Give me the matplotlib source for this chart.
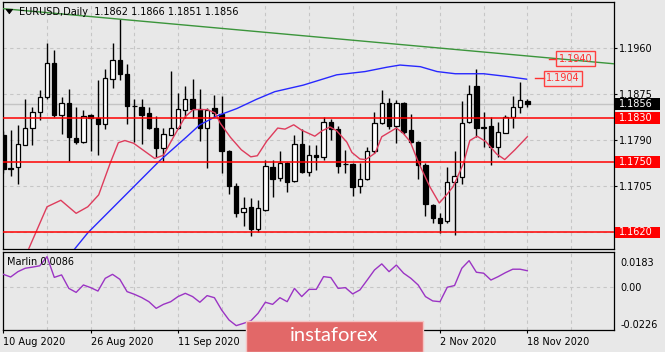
import matplotlib
matplotlib.use('Agg')
import matplotlib.pyplot as plt
import matplotlib.transforms as mtransforms
from matplotlib.patches import Rectangle, Polygon
import numpy as np

# EURUSD daily candles, bar 0 = 10 Aug 2020 ... bar 72 = 18 Nov 2020
opens = [1.1800, 1.1737, 1.1740, 1.1781, 1.1813, 1.1841, 1.1869, 1.1931, 1.1836, 1.1858,
         1.1793, 1.1787, 1.1836, 1.1831, 1.1820, 1.1902, 1.1937, 1.1912, 1.1853, 1.1850,
         1.1840, 1.1813, 1.1775, 1.1800, 1.1813, 1.1845, 1.1865, 1.1847, 1.1813, 1.1848,
         1.1838, 1.1769, 1.1705, 1.1658, 1.1666, 1.1627, 1.1661, 1.1741, 1.1720, 1.1747,
         1.1714, 1.1783, 1.1731, 1.1762, 1.1758, 1.1824, 1.1811, 1.1745, 1.1745, 1.1705,
         1.1719, 1.1769, 1.1821, 1.1858, 1.1816, 1.1858, 1.1808, 1.1787, 1.1744, 1.1671,
         1.1647, 1.1640, 1.1713, 1.1721, 1.1824, 1.1890, 1.1813, 1.1815, 1.1777, 1.1803,
         1.1832, 1.1851, 1.1862]
highs = [1.1806, 1.1809, 1.1818, 1.1865, 1.1850, 1.1882, 1.1968, 1.1956, 1.1870, 1.1883,
         1.1850, 1.1845, 1.1838, 1.1900, 1.1920, 1.1968, 1.2012, 1.1930, 1.1865, 1.1865,
         1.1850, 1.1834, 1.1813, 1.1917, 1.1876, 1.1890, 1.1902, 1.1884, 1.1848, 1.1872,
         1.1871, 1.1772, 1.1710, 1.1685, 1.1683, 1.1680, 1.1753, 1.1753, 1.1769, 1.1750,
         1.1800, 1.1810, 1.1781, 1.1781, 1.1832, 1.1829, 1.1815, 1.1772, 1.1747, 1.1747,
         1.1778, 1.1842, 1.1882, 1.1867, 1.1863, 1.1860, 1.1838, 1.1788, 1.1747, 1.1672,
         1.1656, 1.1741, 1.1770, 1.1861, 1.1891, 1.1920, 1.1842, 1.1833, 1.1824, 1.1836,
         1.1871, 1.1896, 1.1866]
lows = [1.1730, 1.1723, 1.1709, 1.1780, 1.1781, 1.1827, 1.1865, 1.1832, 1.1801, 1.1752,
        1.1783, 1.1784, 1.1770, 1.1762, 1.1810, 1.1885, 1.1901, 1.1820, 1.1787, 1.1783,
        1.1810, 1.1759, 1.1752, 1.1799, 1.1810, 1.1830, 1.1830, 1.1789, 1.1738, 1.1833,
        1.1730, 1.1691, 1.1649, 1.1632, 1.1613, 1.1620, 1.1660, 1.1685, 1.1715, 1.1695,
        1.1712, 1.1729, 1.1724, 1.1734, 1.1754, 1.1790, 1.1729, 1.1729, 1.1687, 1.1692,
        1.1717, 1.1766, 1.1820, 1.1810, 1.1785, 1.1801, 1.1785, 1.1719, 1.1650, 1.1638,
        1.1618, 1.1638, 1.1615, 1.1709, 1.1822, 1.1795, 1.1778, 1.1744, 1.1759, 1.1802,
        1.1812, 1.1840, 1.1851]
closes = [1.1736, 1.1739, 1.1783, 1.1813, 1.1841, 1.1870, 1.1931, 1.1836, 1.1859, 1.1796,
          1.1787, 1.1834, 1.1831, 1.1820, 1.1904, 1.1937, 1.1912, 1.1853, 1.1852, 1.1836,
          1.1812, 1.1775, 1.1801, 1.1813, 1.1847, 1.1865, 1.1847, 1.1813, 1.1845, 1.1840,
          1.1769, 1.1705, 1.1656, 1.1665, 1.1627, 1.1664, 1.1742, 1.1719, 1.1747, 1.1713,
          1.1783, 1.1731, 1.1762, 1.1758, 1.1824, 1.1810, 1.1742, 1.1746, 1.1704, 1.1718,
          1.1769, 1.1821, 1.1858, 1.1816, 1.1858, 1.1804, 1.1787, 1.1744, 1.1672, 1.1646,
          1.1638, 1.1713, 1.1724, 1.1822, 1.1875, 1.1812, 1.1814, 1.1777, 1.1804, 1.1833,
          1.1851, 1.1863, 1.1856]

# short moving average (red) as (bar, price)
red_bar = [2.3, 3.4, 6.0, 7.9, 10.0, 11.6, 13.1, 14.7, 15.8, 16.7, 17.9, 20.8, 22.0, 23.4,
           25.0, 26.1, 28.0, 29.1, 29.8, 31.2, 32.7, 34.0, 34.9, 36.2, 37.7, 38.7, 39.9, 41.0,
           42.8, 43.8, 44.9, 45.8, 47.2, 47.9, 49.0, 49.8, 51.1, 52.0, 54.0, 54.9, 55.9, 57.0,
           58.6, 59.9, 60.9, 61.8, 63.2, 64.1, 65.1, 66.3, 67.8, 68.9, 70.3, 72.0]
red_val = [1.1565, 1.1587, 1.1667, 1.1679, 1.1655, 1.1667, 1.1689, 1.1748, 1.1785, 1.1789,
           1.1784, 1.1756, 1.1762, 1.1796, 1.1833, 1.1846, 1.1846, 1.1840, 1.1821, 1.1795,
           1.1772, 1.1759, 1.1761, 1.1788, 1.1812, 1.1810, 1.1818, 1.1808, 1.1797, 1.1807,
           1.1814, 1.1807, 1.1786, 1.1767, 1.1755, 1.1754, 1.1766, 1.1796, 1.1812, 1.1803,
           1.1787, 1.1750, 1.1704, 1.1674, 1.1689, 1.1704, 1.1746, 1.1789, 1.1797, 1.1787,
           1.1764, 1.1754, 1.1772, 1.1796]

# long moving average (blue)
blue_bar = [8.2, 11.6, 21.5, 25.2, 27.0, 29.3, 32.1, 34.8, 37.3, 41.2, 45.8, 49.7, 52.7,
            54.5, 57.3, 59.6, 62.1, 66.0, 69.2, 71.9]
blue_val = [1.1563, 1.1619, 1.1752, 1.1796, 1.1818, 1.1834, 1.1848, 1.1865, 1.1879, 1.1891,
            1.1910, 1.1916, 1.1924, 1.1928, 1.1925, 1.1916, 1.1912, 1.1912, 1.1907, 1.1902]

# descending trend line (green)
trend_bar = [-1, 85]
trend_val = [1.2033, 1.1929]

levels = [1.1830, 1.1750, 1.1620]
bid = 1.1856
price_ticks = [1.1620, 1.1705, 1.1790, 1.1875, 1.1960]

# Marlin oscillator, one value per bar
marlin = [0.0067, 0.0053, 0.0081, 0.0099, 0.0105, 0.0112, 0.0160, 0.0051, 0.0064, -0.0007,
          -0.0028, 0.0011, -0.0003, -0.0021, 0.0046, 0.0067, 0.0041, -0.0024, -0.0038, -0.0055,
          -0.0077, -0.0112, -0.0091, -0.0077, -0.0050, -0.0033, -0.0050, -0.0080, -0.0045, -0.0056,
          -0.0121, -0.0173, -0.0203, -0.0191, -0.0178, -0.0138, -0.0080, -0.0091, -0.0056, -0.0077,
          -0.0007, -0.0050, -0.0012, -0.0012, 0.0055, 0.0050, -0.0007, -0.0003, -0.0036, -0.0015,
          0.0037, 0.0090, 0.0122, 0.0081, 0.0116, 0.0073, 0.0046, 0.0011, -0.0050, -0.0073,
          -0.0077, -0.0001, 0.0008, 0.0099, 0.0139, 0.0078, 0.0073, 0.0037, 0.0055, 0.0076,
          0.0094, 0.0094, 0.0086]

# date labels every 12 bars; 29 Sep and 15 Oct sit under the watermark
label_bars = [0, 12, 24, 36, 48, 60, 72]
label_text = ['10 Aug 2020', '26 Aug 2020', '11 Sep 2020', '',
              '', '2 Nov 2020', '18 Nov 2020']

W, H = 665, 352
bg = '#e8e8e8'
grid_c = '#c6c6c6'


def fx(px):
    return px / W


def fy(py):
    return 1 - py / H


fig = plt.figure(figsize=(W / 100, H / 100), dpi=100, facecolor=bg)
ax = fig.add_axes([fx(2.7), fy(248.5), fx(611), 246.5 / H], facecolor=bg)
ax2 = fig.add_axes([fx(2.7), fy(330), fx(611), 77.7 / H], facecolor=bg)

xmin, xmax = -0.09, 83.87
for a in (ax, ax2):
    a.set_xlim(xmin, xmax)
    for s in a.spines.values():
        s.set_color('black')
        s.set_linewidth(0.9)
    for k in range(6, 84, 6):
        a.axvline(k, color=grid_c, lw=0.8, dashes=(3, 3), zorder=0)

ax.set_ylim(1.15902, 1.20441)
ax2.set_ylim(-0.0226, 0.0183)

# grid on the price scale
for p in price_ticks:
    ax.axhline(p, color=grid_c, lw=0.8, dashes=(3, 3), zorder=0)
ax.axhline(bid, color='#c4c4c4', lw=1, zorder=1)

# candles
x = np.arange(len(opens))
o = np.array(opens)
c = np.array(closes)
up = c >= o
bot = np.minimum(o, c)
hgt = np.maximum(np.abs(c - o), 0.00005)
ax.vlines(x, lows, highs, color='black', lw=1, zorder=2)
ax.bar(x[up], hgt[up], bottom=bot[up], width=0.6, color='white',
       edgecolor='black', lw=0.9, zorder=3)
ax.bar(x[~up], hgt[~up], bottom=bot[~up], width=0.6, color='black',
       edgecolor='black', lw=0.9, zorder=3)

# indicator lines
ax.plot(trend_bar, trend_val, color='#3b953b', lw=1, zorder=4)
ax.plot(blue_bar, blue_val, color='#2828ff', lw=1, zorder=4)
ax.plot(red_bar, red_val, color='#de3c5c', lw=1, zorder=4)
for lv in levels:
    ax.axhline(lv, color='#ff0000', lw=1.1, zorder=5)

# price tags on the chart
ax.plot([73.06, 74.3], [1.1904, 1.1904], color='#ff3030', lw=1, zorder=5)
ax.text(74.6, 1.1904, '1.1904', color='#ff3030', fontsize=7, va='center', ha='left',
        zorder=6, bbox=dict(boxstyle='square,pad=0.25', fc='none', ec='#ff4040', lw=1))
ax.plot([75.0, 76.0], [1.1940, 1.1940], color='#ff3030', lw=1, zorder=5)
ax.text(76.3, 1.1940, '1.1940', color='#ff3030', fontsize=7, va='center', ha='left',
        zorder=6, bbox=dict(boxstyle='square,pad=0.25', fc='none', ec='#ff4040', lw=1))

# right price axis
ax.yaxis.tick_right()
ax.set_yticks(price_ticks)
ax.set_yticklabels([f'{p:.4f}' for p in price_ticks])
ax.tick_params(axis='y', length=2.5, width=0.8, pad=1.5, labelsize=7, colors='black')
ax.tick_params(axis='x', bottom=False, labelbottom=False)

# axis tags at the right side
tr = mtransforms.blended_transform_factory(fig.transFigure, ax.transData)
ppx = (1.20441 - 1.15902) / 246.5
for val, fc in [(1.1830, '#ff0000'), (1.1750, '#ff0000'), (1.1620, '#ff0000'), (bid, '#000000')]:
    fig.add_artist(Rectangle((fx(614.5), val - 5.8 * ppx), fx(45), 11.6 * ppx,
                             transform=tr, fc=fc, ec='none', zorder=5))
    fig.text(fx(619.3), val, f'{val:.4f}', transform=tr, color='white', fontsize=7,
             va='center', ha='left', zorder=6)

# Marlin panel
ax2.axhline(0, color=grid_c, lw=0.8, dashes=(3, 3), zorder=0)
ax2.plot(x, marlin, color='#9b34c4', lw=1, zorder=3)
ax2.text(fx(4.5) / fx(611), 0.875, 'Marlin 0.0086', transform=ax2.transAxes,
         fontsize=7, va='center', ha='left', color='black')
ax2.yaxis.tick_right()
ax2.set_yticks([0.0183, 0.0, -0.0226])
ax2.set_yticklabels(['0.0183', '0.00', '-0.0226'])
ax2.tick_params(axis='y', length=0, pad=5, labelsize=7, colors='black')
labs = ax2.get_yticklabels()
labs[0].set_transform(labs[0].get_transform() +
                      mtransforms.ScaledTranslation(0, -0.094, fig.dpi_scale_trans))
labs[2].set_transform(labs[2].get_transform() +
                      mtransforms.ScaledTranslation(0, 0.06, fig.dpi_scale_trans))

ax2.set_xticks(label_bars)
ax2.set_xticklabels(label_text, ha='left')
ax2.tick_params(axis='x', length=2.5, width=0.8, pad=2.5, labelsize=7, colors='black')

# header
fig.add_artist(Polygon([[fx(6), fy(9.3)], [fx(12.7), fy(9.3)], [fx(9.35), fy(13.8)]],
                       closed=True, fc='black', ec='black', lw=0.5, transform=fig.transFigure))
fig.text(fx(19), fy(12), 'EURUSD,Daily  1.1862 1.1866 1.1851 1.1856', fontsize=7,
         va='center', ha='left', color='black')

# watermark
fig.add_artist(Rectangle((fx(246), 0), fx(177), 31 / H, transform=fig.transFigure,
                         fc='#e26868', ec='#f3c4c4', lw=1, zorder=10))
fig.text(fx(334.5), fy(335.5), 'instaforex', fontsize=14.5, family='Lato', color='white',
         ha='center', va='center', zorder=11)

fig.savefig('out.png', dpi=100, facecolor=bg)
